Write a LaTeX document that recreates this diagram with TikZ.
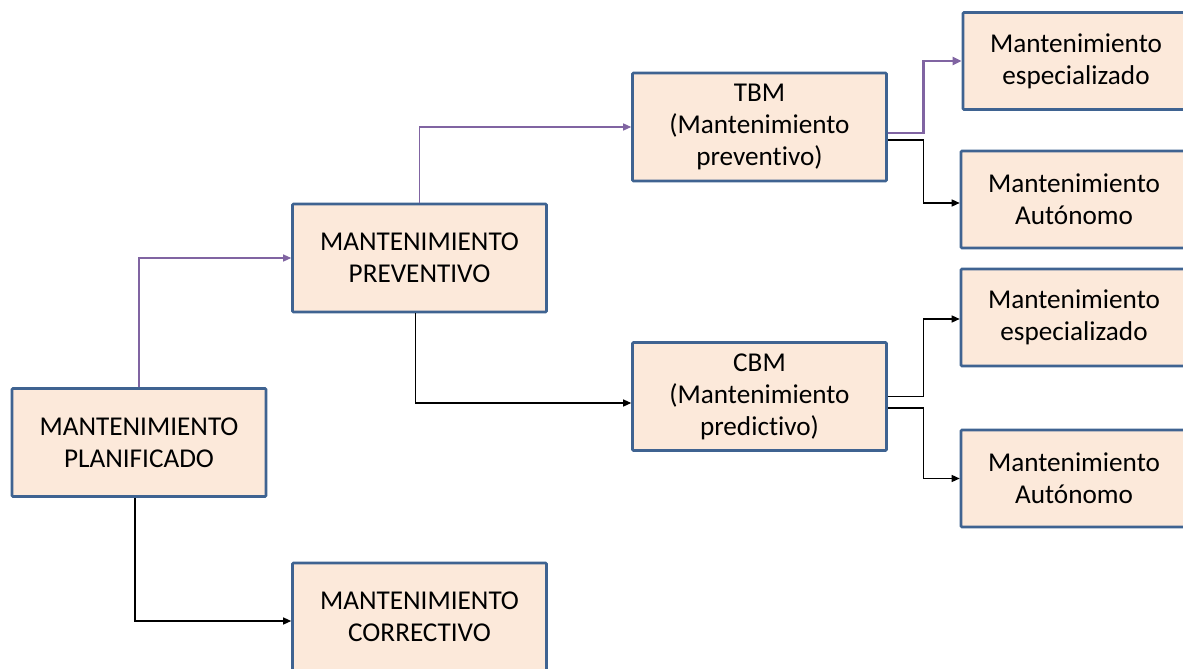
\documentclass[tikz,border=0pt]{standalone}
\usepackage{fontspec}
\setmainfont{Carlito}[Ligatures=NoCommon]
\usetikzlibrary{arrows.meta}
\definecolor{boxfill}{HTML}{FCE9DA}
\definecolor{boxline}{HTML}{3F6391}
\definecolor{linkpurple}{HTML}{8064A2}
\begin{document}
\begin{tikzpicture}[x=1pt,y=-1pt,
  box/.style={draw=boxline, line width=2.6pt, fill=boxfill, align=center,
    inner sep=0pt, rounded corners=1pt, text=black,
    font=\fontsize{27.2}{32}\selectfont},
  bigbox/.style={box, minimum width=254pt, minimum height=108pt},
  leafbox/.style={box, minimum width=226pt, minimum height=97pt},
  blink/.style={-{Triangle[length=8pt,width=7pt]}, line width=1.3pt, draw=black},
  plink/.style={-{Triangle[length=8pt,width=7pt]}, line width=1.3pt, draw=linkpurple},
  pthick/.style={-{Triangle[length=9pt,width=8pt]}, line width=2.8pt, draw=linkpurple}]
\useasboundingbox (0,0) rectangle (1183,669);
\clip (0,0) rectangle (1183,669);

% boxes
\node[bigbox] (plan) at (139,442.5) {MANTENIMIENTO\\PLANIFICADO};
\node[bigbox] (prev) at (419.5,258) {MANTENIMIENTO\\PREVENTIVO};
\node[bigbox] (corr) at (419.5,617) {MANTENIMIENTO\\CORRECTIVO};
\node[bigbox] (tbm) at (759.5,127) {TBM\\(Mantenimiento\\preventivo)};
\node[bigbox] (cbm) at (759.5,396.5) {CBM\\(Mantenimiento\\predictivo)};
\node[leafbox] (esp1) at (1076,61) {Mantenimiento\\especializado};
\node[leafbox] (aut1) at (1074,199.5) {Mantenimiento\\Autónomo};
\node[leafbox] (esp2) at (1074,317.5) {Mantenimiento\\especializado};
\node[leafbox] (aut2) at (1074,478.5) {Mantenimiento\\Autónomo};

% connectors
\draw[plink] (plan.north) |- (prev.west);
\draw[blink] ([xshift=-4pt]plan.south) |- ([yshift=-4pt]corr.west);
\draw[plink] (prev.north) |- (tbm.west);
\draw[blink] ([xshift=-4pt]prev.south) |- ([yshift=-6.5pt]cbm.west);
\draw[pthick] ([yshift=-6pt]tbm.east) -- ++(36,0) |- (esp1.west);
\draw[blink] ([yshift=-13pt]tbm.east) -- ++(36,0) |- ([yshift=-3.5pt]aut1.west);
\draw[blink] (cbm.east) -- ++(36,0) |- ([yshift=-1.5pt]esp2.west);
\draw[blink] ([yshift=-11.5pt]cbm.east) -- ++(36,0) |- (aut2.west);
\end{tikzpicture}
\end{document}
